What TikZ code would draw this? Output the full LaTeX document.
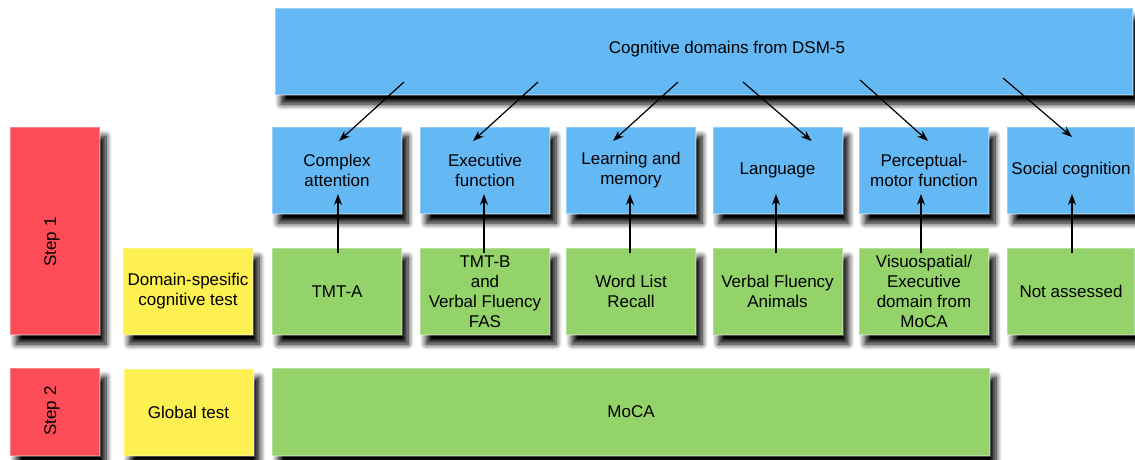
\documentclass[tikz,border=0pt]{standalone}
\usepackage{fontspec}
\setmainfont{Liberation Sans}
\usetikzlibrary{shadows.blur,arrows.meta}
\definecolor{bxblue}{RGB}{100,185,245}
\definecolor{bxgreen}{RGB}{147,211,106}
\definecolor{bxyellow}{RGB}{253,240,80}
\definecolor{bxred}{RGB}{252,76,88}
\tikzset{
  box/.style={rectangle, inner sep=0pt, align=center, text=black,
    font=\fontsize{17}{20}\selectfont,
    draw=white, draw opacity=0.3, line width=2pt,
    blur shadow={shadow xshift=6pt, shadow yshift=-9pt, shadow blur radius=6pt, shadow opacity=100, shadow blur steps=8},
    minimum width=130pt, minimum height=87pt},
  bluebox/.style={box, fill=bxblue},
  greenbox/.style={box, fill=bxgreen},
  yellowbox/.style={box, fill=bxyellow},
  redbox/.style={box, fill=bxred, minimum width=90pt},
  lbl/.style={inner sep=0pt, align=center, font=\fontsize{17}{20}\selectfont},
  arr/.style={draw=black, line width=1.2pt, -{Stealth[length=11pt,width=8pt]}}
}
\begin{document}
\begin{tikzpicture}[x=1pt,y=-1pt]
\useasboundingbox (0,0) rectangle (1135,460);
% top box
\node[bluebox, minimum width=858pt, minimum height=87pt] (dsm) at (704,51.5) {};
\node[lbl] (dsmt) at (727,49) {Cognitive domains from DSM-5};
% steps
\node[redbox, minimum height=208pt] (s1) at (55,231) {};
\node[lbl, rotate=90] (s1t) at (52,242) {Step 1};
\node[redbox, minimum height=88pt] (s2) at (55,412) {};
\node[lbl, rotate=90] (s2t) at (52,411) {Step 2};
% yellow
\node[yellowbox] (y1) at (188,291.5) {Domain-spesific\\cognitive test};
\node[yellowbox] (y2) at (188.5,412) {Global test};
% blue row
\node[bluebox] (b1) at (337,170.5) {Complex\\attention};
\node[bluebox] (b2) at (485,170.5) {Executive\\function};
\node[bluebox] (b3) at (631,170.5) {Learning and\\memory};
\node[bluebox] (b4) at (777.5,170.5) {Language};
\node[bluebox] (b5) at (924,170.5) {Perceptual-\\motor function};
\node[bluebox, minimum width=128pt] (b6) at (1071,170.5) {Social cognition};
% green row
\node[greenbox] (g1) at (337,291.5) {TMT-A};
\node[greenbox] (g2) at (485,291.5) {TMT-B\\and\\Verbal Fluency\\FAS};
\node[greenbox] (g3) at (631,291.5) {Word List\\Recall};
\node[greenbox] (g4) at (777.5,291.5) {Verbal Fluency\\Animals};
\node[greenbox] (g5) at (924,291.5) {Visuospatial/\\Executive\\domain from\\MoCA};
\node[greenbox, minimum width=128pt] (g6) at (1071,291.5) {Not assessed};
% MoCA
\node[greenbox, minimum width=718pt, minimum height=88pt] (moca) at (631,412) {MoCA};
% diagonal arrows
\coordinate (c1) at (404,82);
\coordinate (c2) at (538,82);
\coordinate (c3) at (678,82);
\coordinate (c4) at (743,82);
\coordinate (c5) at (860,80);
\coordinate (c6) at (1003,78);
\draw[arr] (c1) -- ([xshift=2pt,yshift=-15pt]b1.north);
\draw[arr] (c2) -- ([xshift=-12pt,yshift=-15pt]b2.north);
\draw[arr] (c3) -- ([xshift=-18pt,yshift=-15pt]b3.north);
\draw[arr] (c4) -- ([xshift=34pt,yshift=-15pt]b4.north);
\draw[arr] (c5) -- ([xshift=4pt,yshift=-15pt]b5.north);
\draw[arr] (c6) -- ([xshift=1pt,yshift=-11pt]b6.north);
% vertical arrows
\draw[arr] ([xshift=1pt,yshift=-6pt]g1.north) -- ([xshift=1pt,yshift=21pt]b1.south);
\draw[arr] ([xshift=-1pt,yshift=-6pt]g2.north) -- ([xshift=-1pt,yshift=21pt]b2.south);
\draw[arr] ([xshift=-1pt,yshift=-6pt]g3.north) -- ([xshift=-1pt,yshift=21pt]b3.south);
\draw[arr] ([xshift=-1.5pt,yshift=-6pt]g4.north) -- ([xshift=-1.5pt,yshift=21pt]b4.south);
\draw[arr] ([xshift=-3pt,yshift=-6pt]g5.north) -- ([xshift=-3pt,yshift=21pt]b5.south);
\draw[arr] ([xshift=1pt,yshift=-6pt]g6.north) -- ([xshift=1pt,yshift=21pt]b6.south);
\end{tikzpicture}
\end{document}
